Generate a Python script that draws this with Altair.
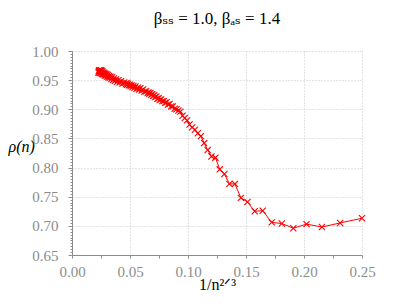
import altair as alt
import pandas as pd

# system size n (x axis is 1/n^(2/3))
n_values = list(range(8, 61)) + list(range(62, 101, 2)) + list(range(105, 291, 5))

rho_values = [
    # n = 8 .. 35
    0.713, 0.705, 0.698, 0.703, 0.696, 0.704, 0.706, 0.726, 0.725, 0.741,
    0.748, 0.772, 0.772, 0.789, 0.797, 0.817, 0.819, 0.830, 0.842, 0.854,
    0.859, 0.865, 0.869, 0.874, 0.881, 0.885, 0.889, 0.896,
    # n = 36 .. 60
    0.898, 0.900, 0.901, 0.905, 0.905, 0.909, 0.908, 0.912, 0.911, 0.914,
    0.914, 0.917, 0.916, 0.919, 0.918, 0.922, 0.921, 0.924, 0.923, 0.926,
    0.925, 0.928, 0.927, 0.929, 0.928,
    # n = 62 .. 100 step 2
    0.931, 0.930, 0.934, 0.932, 0.936, 0.934, 0.937, 0.935, 0.939, 0.937,
    0.940, 0.938, 0.941, 0.940, 0.942, 0.941, 0.944, 0.942, 0.945, 0.943,
    # n = 105 .. 290 step 5
    0.946, 0.944, 0.948, 0.946, 0.950, 0.947, 0.951, 0.949, 0.953, 0.950,
    0.955, 0.952, 0.956, 0.954, 0.957, 0.955, 0.959, 0.956, 0.960, 0.958,
    0.961, 0.958, 0.962, 0.960, 0.963, 0.960, 0.965, 0.961, 0.966, 0.962,
    0.967, 0.963, 0.966, 0.962, 0.967, 0.964, 0.966, 0.963,
]

x_tick_values = [0.0, 0.025, 0.05, 0.075, 0.1, 0.125, 0.15, 0.175, 0.2, 0.225, 0.25]
y_major_values = [0.65, 0.70, 0.75, 0.80, 0.85, 0.90, 0.95, 1.00]
y_minor_values = [round(0.65 + 0.005 * i, 3) for i in range(71)]

df = pd.DataFrame({"n": n_values, "rho": rho_values})
df["x"] = df["n"] ** (-2.0 / 3.0)

RED = "#ff0000"
GRAY = "#8c8c8c"
SERIF = "'Liberation Serif', 'Times New Roman', 'DejaVu Serif', serif"

y_scale = alt.Scale(domain=[0.65, 1.0], nice=False, zero=False)

x_enc = alt.X(
    "x:Q",
    scale=alt.Scale(domain=[0, 0.25], nice=False, zero=False),
    axis=alt.Axis(
        values=x_tick_values,
        tickCount=200,
        labelExpr="round(datum.value*40)%2==0 ? format(datum.value,'.2f') : ''",
        title="1/n²ᐟ³",
        titleFont=SERIF,
        titleFontSize=16,
        titleFontWeight="normal",
        titleColor="black",
        titlePadding=-3,
        labelFont=SERIF,
        labelFontSize=15,
        labelColor=GRAY,
        labelPadding=6,
        labelFlush=False,
        labelOverlap=False,
        tickSize=3,
        tickColor=GRAY,
        domainColor=GRAY,
        grid=True,
        gridColor="#c8c8c8",
        gridDash=[1, 2],
        gridOpacity={"condition": {"test": "round(datum.value*40)%2==0 && datum.value>0", "value": 1}, "value": 0},
    ),
)

y_enc = alt.Y(
    "rho:Q",
    scale=y_scale,
    axis=alt.Axis(
        values=y_major_values,
        tickCount=200,
        format=".2f",
        orient="left",
        title="ρ(n)",
        titleFont=SERIF,
        titleFontSize=16,
        titleFontStyle="italic",
        titleFontWeight="normal",
        titleColor="black",
        titleAngle=0,
        titleAlign="left",
        titleBaseline="middle",
        titleX=-64,
        titleY=95,
        labelFont=SERIF,
        labelFontSize=15,
        labelColor=GRAY,
        labelPadding=10,
        labelOverlap=False,
        labelFlush=False,
        tickSize=4,
        tickColor=GRAY,
        domainColor=GRAY,
        grid=True,
        gridColor="#c8c8c8",
        gridDash=[1, 2],
    ),
)

y_minor_enc = alt.Y(
    "rho:Q",
    scale=y_scale,
    axis=alt.Axis(
        values=y_minor_values,
        tickCount=200,
        orient="left",
        labels=False,
        title=None,
        grid=False,
        domain=False,
        tickSize=2,
        tickColor=GRAY,
    ),
)

base = alt.Chart(df)

line = base.mark_line(color=RED, strokeWidth=1).encode(x=x_enc, y=y_enc, order="x:Q")
points = base.mark_point(
    shape="M-1,-1L1,1M-1,1L1,-1",
    filled=False,
    color=RED,
    strokeWidth=1.1,
    size=38,
    opacity=1,
).encode(x="x:Q", y="rho:Q")
minor = base.mark_point(opacity=0).encode(x="x:Q", y=y_minor_enc)

chart = (
    alt.layer(alt.layer(line, points), minor)
    .resolve_scale(y="shared")
    .resolve_axis(y="independent")
    .properties(
        width=290,
        height=204,
        autosize="none",
        padding={"left": 64, "top": 43, "right": 15, "bottom": 40},
        title=alt.TitleParams(
            "βₛₛ = 1.0,    βₐₛ = 1.4",
            font=SERIF,
            fontSize=17,
            fontWeight="normal",
            color="black",
            anchor="middle",
            offset=16,
        ),
    )
    .configure_view(stroke=None)
)

chart.save("out.html", embed_options={"renderer": "svg", "actions": False})
